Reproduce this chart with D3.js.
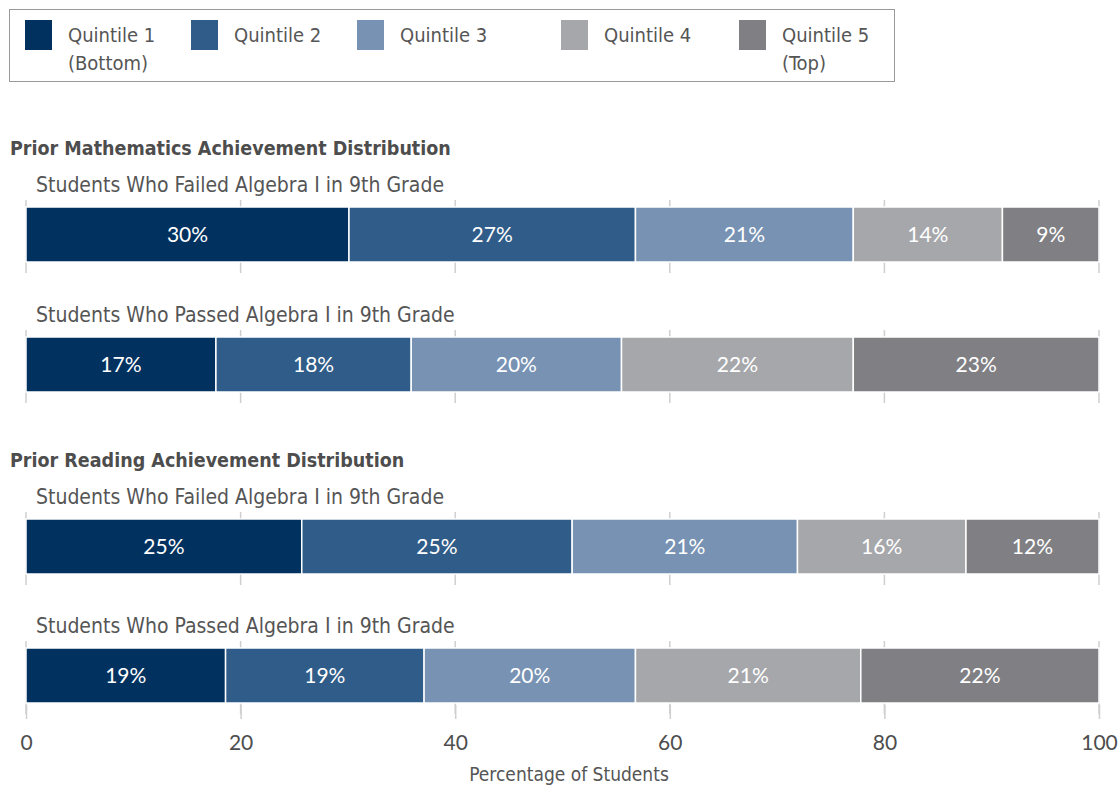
<!DOCTYPE html>
<html>
<head>
<meta charset="utf-8">
<script src="https://cdn.jsdelivr.net/npm/d3@7"></script>
<style>
  body { margin: 0; background: #fff; }
  svg { display: block; }
</style>
</head>
<body>
<script>
// quintile keys
var quintiles = ['Quintile 1', 'Quintile 2', 'Quintile 3', 'Quintile 4', 'Quintile 5'];
var quintileNotes = ['(Bottom)', '', '', '', '(Top)'];
var colors = ['#01325f', '#2f5c88', '#7792b3', '#a6a7ab', '#808084'];

var sections = ['Prior Mathematics Achievement Distribution', 'Prior Reading Achievement Distribution'];
var groups = ['Students Who Failed Algebra I in 9th Grade', 'Students Who Passed Algebra I in 9th Grade'];

var mathFailed = [30.1, 26.7, 20.3, 13.9, 9.0];
var mathPassed = [17.7, 18.2, 19.6, 21.6, 22.9];
var readFailed = [25.7, 25.2, 21.0, 15.7, 12.4];
var readPassed = [18.6, 18.5, 19.7, 21.0, 22.2];

var mathFailedLabels = [30, 27, 21, 14, 9];
var mathPassedLabels = [17, 18, 20, 22, 23];
var readFailedLabels = [25, 25, 21, 16, 12];
var readPassedLabels = [19, 19, 20, 21, 22];

var xTicks = [0, 20, 40, 60, 80, 100];

var width = 1120,
    height = 786,
    narrow = '"Liberation Sans Narrow", "DejaVu Sans Condensed", sans-serif',
    lato = 'Lato, sans-serif',
    barH = 55,
    barTops = [207, 337, 519, 648],
    sectionY = [155, 467];

var bars = [
    { section: 0, group: 0, values: mathFailed, labels: mathFailedLabels },
    { section: 0, group: 1, values: mathPassed, labels: mathPassedLabels },
    { section: 1, group: 0, values: readFailed, labels: readFailedLabels },
    { section: 1, group: 1, values: readPassed, labels: readPassedLabels }
];

var x = d3.scaleLinear().domain([0, 100]).range([26, 1099]);

var svg = d3.select('body').append('svg')
    .attr('width', width)
    .attr('height', height);

// legend
var legend = svg.append('g');
legend.append('rect')
    .attr('x', 9.5).attr('y', 9.5)
    .attr('width', 885).attr('height', 72)
    .attr('fill', '#fff')
    .attr('stroke', '#9a9a9a')
    .attr('stroke-width', 1);

var legendX = [25, 191, 357, 561, 739];

var key = legend.selectAll('g.key')
    .data(quintiles)
    .enter().append('g')
    .attr('class', 'key')
    .attr('transform', function(d, i) { return 'translate(' + legendX[i] + ',20)'; });

key.append('rect')
    .attr('width', 27).attr('height', 30)
    .attr('fill', function(d, i) { return colors[i]; });

key.append('text')
    .attr('x', 43).attr('y', 22)
    .attr('font-family', narrow)
    .attr('font-size', '20px')
    .attr('fill', '#555')
    .text(function(d) { return d; });

key.append('text')
    .attr('x', 43).attr('y', 50)
    .attr('font-family', narrow)
    .attr('font-size', '20px')
    .attr('fill', '#555')
    .text(function(d, i) { return quintileNotes[i]; });

// section titles
svg.selectAll('text.section')
    .data(sections)
    .enter().append('text')
    .attr('class', 'section')
    .attr('x', 10)
    .attr('y', function(d, i) { return sectionY[i]; })
    .attr('font-family', narrow)
    .attr('font-weight', 'bold')
    .attr('font-size', '19.5px')
    .attr('fill', '#4d4d4d')
    .text(function(d) { return d; });

// bars
var row = svg.selectAll('g.row')
    .data(bars)
    .enter().append('g')
    .attr('class', 'row')
    .attr('transform', function(d, i) { return 'translate(0,' + barTops[i] + ')'; });

row.append('text')
    .attr('x', 36).attr('y', -15)
    .attr('font-family', narrow)
    .attr('font-size', '21px')
    .attr('fill', '#555')
    .text(function(d) { return groups[d.group]; });

// short grid ticks behind each bar
row.selectAll('line.grid')
    .data(xTicks)
    .enter().append('line')
    .attr('class', 'grid')
    .attr('x1', function(d) { return x(d); })
    .attr('x2', function(d) { return x(d); })
    .attr('y1', -7)
    .attr('y2', barH + 11)
    .attr('stroke', '#cfcfcf')
    .attr('stroke-width', 1.5);

var seg = row.selectAll('g.seg')
    .data(function(d) {
        var acc = 0;
        return d.values.map(function(v, i) {
            var s = { x0: acc, x1: acc + v, label: d.labels[i], q: i };
            acc += v;
            return s;
        });
    })
    .enter().append('g')
    .attr('class', 'seg');

seg.append('rect')
    .attr('x', function(d) { return x(d.x0); })
    .attr('width', function(d) { return Math.min(x(d.x1), x(100)) - x(d.x0); })
    .attr('y', 0)
    .attr('height', barH)
    .attr('fill', function(d) { return colors[d.q]; })
    .attr('stroke', '#fff')
    .attr('stroke-width', 1.5);

seg.append('text')
    .attr('x', function(d) { return (x(d.x0) + Math.min(x(d.x1), x(100))) / 2; })
    .attr('y', barH / 2)
    .attr('dy', '0.36em')
    .attr('text-anchor', 'middle')
    .attr('font-family', lato)
    .attr('font-size', '21px')
    .attr('fill', '#fff')
    .text(function(d) { return d.label + '%'; });

// x axis
var axis = svg.append('g')
    .attr('transform', 'translate(0,' + (barTops[3] + barH + 2) + ')')
    .call(d3.axisBottom(x).tickValues(xTicks).tickSize(14).tickPadding(16));

axis.select('.domain').remove();
axis.selectAll('.tick line').attr('stroke', '#cfcfcf').attr('stroke-width', 1.5);
axis.selectAll('.tick text')
    .attr('font-family', lato)
    .attr('font-size', '21px')
    .attr('fill', '#4d4d4d');

svg.append('text')
    .attr('x', 569)
    .attr('y', 781)
    .attr('text-anchor', 'middle')
    .attr('font-family', narrow)
    .attr('font-size', '19px')
    .attr('fill', '#555')
    .text('Percentage of Students');
</script>
</body>
</html>
